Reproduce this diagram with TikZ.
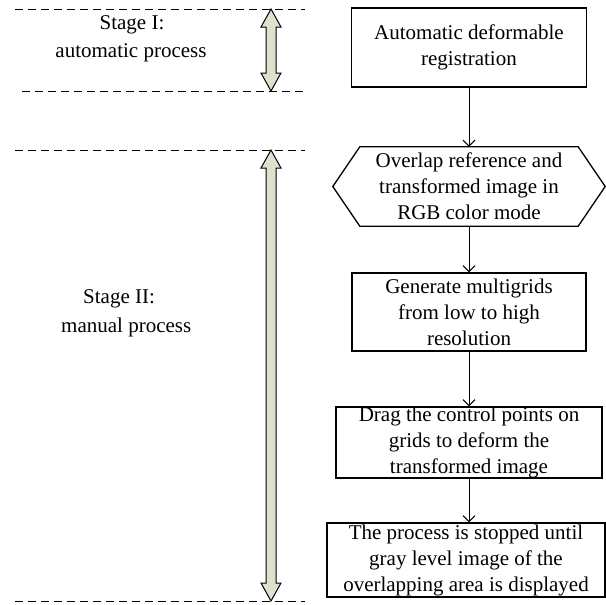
\documentclass[tikz,border=0pt]{standalone}
\usepackage{fontspec}
\setmainfont{Liberation Serif}
\usetikzlibrary{arrows.meta}
\definecolor{arrowfill}{RGB}{222,225,205}
\tikzset{
  every node/.style={font=\fontsize{21}{26}\selectfont},
  procbox/.style={draw, line width=1.3pt, inner sep=0pt, align=center},
  conn/.style={line width=1pt, -{Straight Barb[length=6pt,width=12pt]}},
  divider/.style={line width=1pt, dash pattern=on 8pt off 5pt},
  dblarrow/.style={draw, line width=1pt, fill=arrowfill, line join=miter},
  stagetext/.style={anchor=base, inner sep=0pt}
}
\begin{document}
\begin{tikzpicture}[x=1pt,y=-1pt]
\useasboundingbox (0,0) rectangle (606,605);
% dividers
\coordinate (d1a) at (15,9);   \coordinate (d1b) at (305,9);
\coordinate (d2a) at (22,91);  \coordinate (d2b) at (305,91);
\coordinate (d3a) at (15,150); \coordinate (d3b) at (305,150);
\coordinate (d4a) at (15,601); \coordinate (d4b) at (305,601);
\draw[divider] (d1a) -- (d1b);
\draw[divider] (d2a) -- (d2b);
\draw[divider] (d3a) -- (d3b);
\draw[divider] (d4a) -- (d4b);
% double arrows
\path[dblarrow] (271,9) -- (281,27) -- (276,27) -- (276,73) -- (281,73) -- (271,91)
  -- (261,73) -- (266,73) -- (266,27) -- (261,27) -- cycle;
\path[dblarrow] (271,150) -- (281,168) -- (276,168) -- (276,583) -- (281,583) -- (271,601)
  -- (261,583) -- (266,583) -- (266,168) -- (261,168) -- cycle;
% stage labels
\node[stagetext] (s1a) at (132,30) {Stage I:};
\node[stagetext] (s1b) at (131,57) {automatic process};
\node[stagetext, anchor=base west] (s2a) at (83,303) {Stage II:};
\node[stagetext, anchor=base west] (s2b) at (61,332) {manual process};
% boxes
\node[procbox, minimum width=235pt, minimum height=79pt] (b1) at (469,47.5)
  {Automatic deformable\\registration};
\node[inner sep=0pt, minimum width=218pt, minimum height=79pt, align=center] (b2) at (469,186.5)
  {Overlap reference and\\transformed image in\\RGB color mode};
\draw[line width=1.3pt, line join=miter] (b2.north west) -- (b2.north east) -- ([xshift=27pt]b2.east)
  -- (b2.south east) -- (b2.south west) -- ([xshift=-27pt]b2.west) -- cycle;
\node[procbox, minimum width=234pt, minimum height=78pt] (b3) at (469,312)
  {Generate multigrids\\from low to high\\resolution};
\node[procbox, minimum width=266pt, minimum height=69pt] (b4) at (469,442.5)
  {Drag the control points on\\grids to deform the\\transformed image};
\node[procbox, minimum width=278pt, minimum height=74pt] (b5) at (466,560)
  {The process is stopped until\\gray level image of the\\overlapping area is displayed};
% connectors
\draw[conn] (b1) -- (b2);
\draw[conn] (b2) -- (b3);
\draw[conn] (b3) -- (b4);
\draw[conn] (b4.south) -- (b4.south |- b5.north);
\end{tikzpicture}
\end{document}
